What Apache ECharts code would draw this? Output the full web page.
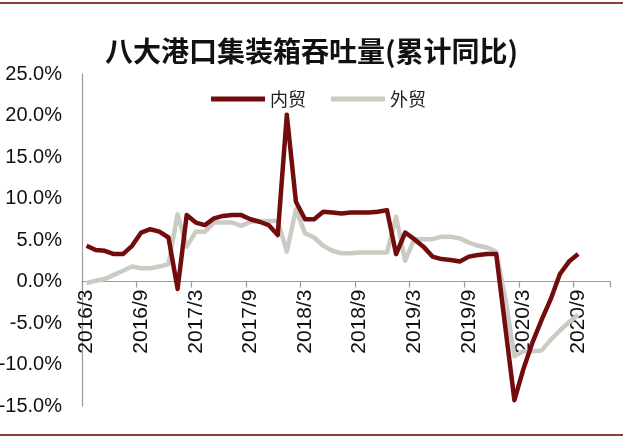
<!DOCTYPE html>
<html>
<head>
<meta charset="utf-8">
<script src="https://cdn.jsdelivr.net/npm/echarts@6/dist/echarts.min.js"></script>
<style>html,body{margin:0;padding:0;background:#fff;}#c{width:623px;height:437px;}</style>
</head>
<body>
<div id="c"></div>
<script>
var titleText = '八大港口集装箱吞吐量(累计同比)';
var seriesNames = ['内贸', '外贸'];
var categories = [
  '2016/3','2016/4','2016/5','2016/6','2016/7','2016/8','2016/9','2016/10','2016/11','2016/12',
  '2017/1','2017/2','2017/3','2017/4','2017/5','2017/6','2017/7','2017/8','2017/9','2017/10','2017/11','2017/12',
  '2018/1','2018/2','2018/3','2018/4','2018/5','2018/6','2018/7','2018/8','2018/9','2018/10','2018/11','2018/12',
  '2019/1','2019/2','2019/3','2019/4','2019/5','2019/6','2019/7','2019/8','2019/9','2019/10','2019/11','2019/12',
  '2020/1','2020/2','2020/3','2020/4','2020/5','2020/6','2020/7','2020/8','2020/9','2020/10','2020/11','2020/12'
];
var domestic = [
  4.3,3.8,3.7,3.3,3.3,4.3,5.9,6.3,6.0,5.3,
  -0.9,8.0,7.1,6.8,7.6,7.9,8.0,8.0,7.5,7.2,
  6.8,5.6,20.1,9.6,7.5,7.5,8.4,8.3,8.2,8.3,
  8.3,8.3,8.4,8.6,3.3,5.9,5.1,4.2,3.0,2.7,
  2.6,2.4,3.0,3.2,3.3,3.3,-5.5,-14.3,-10.5,-7.3,
  -4.6,-2.1,0.9,2.4,3.3
];
var foreign = [
  -0.2,0.1,0.3,0.8,1.3,1.8,1.6,1.6,1.8,2.1,
  8.1,4.2,6.0,6.0,7.1,7.1,7.1,6.7,7.2,7.3,
  7.3,7.3,3.6,8.7,5.8,5.3,4.3,3.7,3.4,3.4,
  3.5,3.5,3.5,3.5,7.8,2.5,5.1,5.1,5.1,5.4,
  5.4,5.2,4.7,4.3,4.1,3.6,-2.0,-9.0,-8.4,-8.4,
  -8.3,-7.0,-5.9,-4.9,-4.0
];
var yMin = -15, yMax = 25, yStep = 5;

var W = 623, H = 437;
var gridBox = {left: 82, right: 13, top: 74, bottom: 31};
var plotH = H - gridBox.top - gridBox.bottom;
// move the category axis up to the zero line of the value axis
var zeroOffset = -plotH * (0 - yMin) / (yMax - yMin);

var chart = echarts.init(document.getElementById('c'), null, {renderer: 'canvas'});
chart.setOption({
  backgroundColor: '#ffffff',
  animation: false,
  title: {
    text: titleText,
    left: 'center',
    top: 32,
    textStyle: {fontFamily: 'Noto Sans CJK SC', fontSize: 28, fontWeight: 'bold', color: '#111'}
  },
  legend: {
    left: 206,
    top: 85,
    icon: 'rect',
    itemWidth: 54,
    itemHeight: 5,
    itemGap: 25,
    textStyle: {fontFamily: 'Noto Sans CJK SC', fontSize: 18, color: '#222'},
    data: seriesNames
  },
  grid: {left: gridBox.left, right: gridBox.right, top: gridBox.top, bottom: gridBox.bottom, containLabel: false, outerBoundsMode: 'none'},
  xAxis: {
    type: 'category',
    data: categories,
    boundaryGap: true,
    position: 'bottom',
    offset: zeroOffset,
    axisLine: {show: true, onZero: false, lineStyle: {color: '#9a9a9a', width: 1.2}},
    axisTick: {show: true, interval: 5, length: 6, lineStyle: {color: '#9a9a9a', width: 1.2}},
    axisLabel: {interval: 5, rotate: 90, margin: 8, fontFamily: 'Liberation Sans', fontSize: 21, color: '#111'},
    splitLine: {show: false}
  },
  yAxis: {
    type: 'value',
    min: yMin, max: yMax, interval: yStep,
    axisLine: {show: true, onZero: false, lineStyle: {color: '#9a9a9a', width: 1.2}},
    axisTick: {show: false},
    splitLine: {show: false},
    axisLabel: {
      margin: 20,
      fontFamily: 'Liberation Sans', fontSize: 20, color: '#111',
      padding: [4, 0, 0, 0],
      formatter: function (v) { return v.toFixed(1) + '%'; }
    }
  },
  graphic: [
    {type: 'line', shape: {x1: 0, y1: 3, x2: W, y2: 3}, style: {stroke: '#8c3a3a', lineWidth: 2}},
    {type: 'line', shape: {x1: 0, y1: 435, x2: W, y2: 435}, style: {stroke: '#8c3a3a', lineWidth: 2}}
  ],
  series: [
    {
      name: seriesNames[0], type: 'line', data: domestic, symbol: 'none', smooth: false, z: 3,
      lineStyle: {color: '#730c0c', width: 4.5, join: 'round'}, itemStyle: {color: '#730c0c'}
    },
    {
      name: seriesNames[1], type: 'line', data: foreign, symbol: 'none', smooth: false, z: 2,
      lineStyle: {color: '#cbcbc3', width: 4.5, join: 'round'}, itemStyle: {color: '#cbcbc3'}
    }
  ]
});
</script>
</body>
</html>
